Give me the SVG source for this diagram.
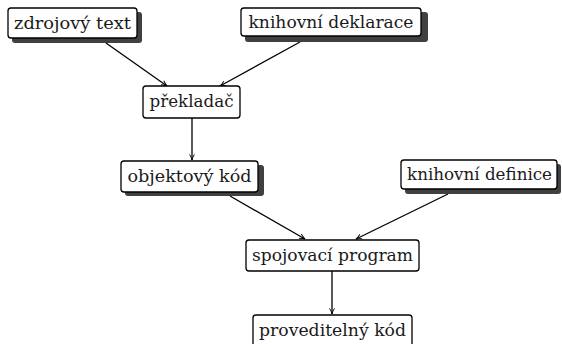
<svg xmlns="http://www.w3.org/2000/svg" width="562" height="344" viewBox="0 0 562 344">
<style>
.box{fill:#fff;stroke:#000;stroke-width:1.3}
.sh{fill:#404040}
text{font-family:'DejaVu Serif','Liberation Serif',serif;font-size:17px;fill:#1a1a1a;text-anchor:middle}
.c{stroke:#000;stroke-width:1.3;fill:none;marker-end:url(#ah)}
</style>
<defs>
<marker id="ah" viewBox="0 0 10 10" refX="9" refY="5" markerWidth="7" markerHeight="7" markerUnits="userSpaceOnUse" orient="auto">
<path d="M1,1.5 Q5,4 9,5 Q5,6 1,8.5" fill="none" stroke="#000" stroke-width="1.3"/>
</marker>
</defs>
<g id="connectors">
<line class="c" x1="106" y1="43" x2="167" y2="86"/>
<line class="c" x1="300" y1="42" x2="220" y2="86"/>
<line class="c" x1="192" y1="118" x2="192" y2="160"/>
<line class="c" x1="230" y1="196" x2="305" y2="239"/>
<line class="c" x1="448" y1="194" x2="356" y2="239"/>
<line class="c" x1="332" y1="271" x2="332" y2="314"/>
</g>
<g id="n1">
<rect class="sh" x="12" y="12" width="130" height="31" rx="3"/>
<rect class="box" x="8" y="8" width="129" height="30" rx="3"/>
<text x="72.5" y="28.5" textLength="117" lengthAdjust="spacingAndGlyphs">zdrojový text</text>
</g>
<g id="n2">
<rect class="sh" x="245" y="12" width="183" height="30" rx="3"/>
<rect class="box" x="241" y="8" width="180" height="28" rx="3"/>
<text x="331" y="27.5" textLength="165" lengthAdjust="spacingAndGlyphs">knihovní deklarace</text>
</g>
<g id="n3">
<rect class="box" x="143" y="86" width="97" height="32" rx="3"/>
<text x="191.5" y="106.5" textLength="84" lengthAdjust="spacingAndGlyphs">překladač</text>
</g>
<g id="n4">
<rect class="sh" x="125" y="165" width="139" height="31" rx="3"/>
<rect class="box" x="121" y="161" width="137" height="31" rx="3"/>
<text x="189.5" y="181.5" textLength="124" lengthAdjust="spacingAndGlyphs">objektový kód</text>
</g>
<g id="n5">
<rect class="sh" x="405" y="164" width="156" height="30" rx="3"/>
<rect class="box" x="401" y="160" width="156" height="29" rx="3"/>
<text x="479.5" y="179.5" textLength="145" lengthAdjust="spacingAndGlyphs">knihovní definice</text>
</g>
<g id="n6">
<rect class="box" x="246" y="240" width="173" height="31" rx="3"/>
<text x="332.5" y="260.5" textLength="161" lengthAdjust="spacingAndGlyphs">spojovací program</text>
</g>
<g id="n7">
<rect class="box" x="253" y="315" width="159" height="31" rx="3"/>
<text x="332.5" y="335.5" textLength="147" lengthAdjust="spacingAndGlyphs">proveditelný kód</text>
</g>
</svg>
